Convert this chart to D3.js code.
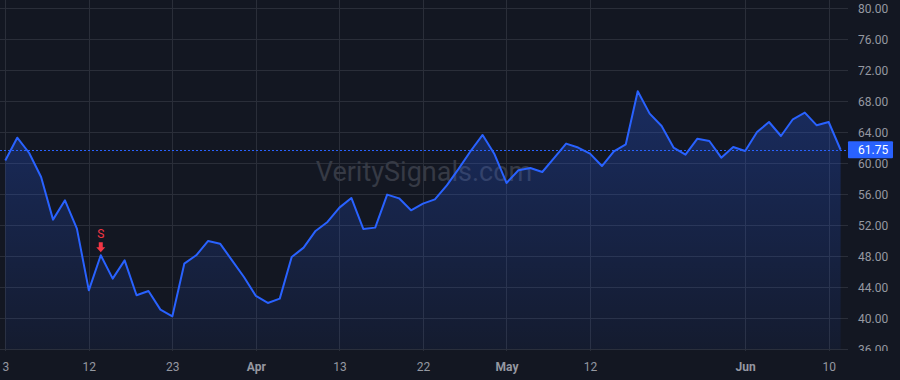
<html>
<head>
  <style>
    body { margin: 0; background-color: #131722; }
    svg { display: block; }
  </style>
</head>
<body>
<div id="mydiv"></div>
<script src="https://d3js.org/d3.v7.min.js"></script>
<script>

// price series (one point per bar)
var prices = [60.35, 63.3, 61.33, 58.24, 52.73, 55.23, 51.57, 43.61, 48.13, 45.12,
  47.48, 42.97, 43.53, 41.12, 40.26, 47.05, 48.13, 49.98, 49.63, 47.48,
  45.33, 42.88, 41.98, 42.54, 47.9, 49.12, 51.27, 52.43, 54.28, 55.53,
  51.53, 51.7, 55.96, 55.48, 53.94, 54.8, 55.35, 57.16, 59.31, 61.59,
  63.66, 61.16, 57.46, 59.1, 59.4, 58.88, 60.69, 62.54, 62.03, 61.25,
  59.65, 61.55, 62.45, 69.29, 66.41, 64.82, 62.03, 61.12, 63.18, 62.88,
  60.73, 62.1, 61.59, 64.04, 65.33, 63.52, 65.68, 66.54, 64.9, 65.33, 61.75];

// bottom axis labels, placed on bar index
var tickIdx = [0, 7, 14, 21, 28, 35, 42, 49, 62, 69];
var tickLabels = ["3", "12", "23", "Apr", "13", "22", "May", "12", "Jun", "10"];
var months = ["Apr", "May", "Jun"];

var priceTicks = d3.range(36, 81, 4);

// sell signal
var signalIdx = [8];
var signalText = ["S"];

let width = 900, height = 380;
let plotW = 848, plotH = 351;

let svg = d3.select("#mydiv")
  .append("svg")
  .attr("width", width)
  .attr("height", height)
  .style("font-family", "Roboto, 'Liberation Sans', sans-serif");

svg.append("rect").attr("width", width).attr("height", height).attr("fill", "#131722");

let x = d3.scaleLinear().domain([0, prices.length - 1]).range([5.3, 840.6]);
let y = d3.scaleLinear().domain([36, 80]).range([349.3, 8.3]);

let defs = svg.append("defs");
defs.append("clipPath").attr("id", "plotclip")
  .append("rect").attr("width", plotW).attr("height", plotH);
// used inside the translated axis group, so local coords
defs.append("clipPath").attr("id", "axisclip")
  .append("rect").attr("x", 0).attr("width", width - plotW).attr("height", plotH);

let grad = defs.append("linearGradient")
  .attr("id", "areagrad")
  .attr("x1", 0).attr("y1", 0).attr("x2", 0).attr("y2", 1);
grad.append("stop").attr("offset", "0%").attr("stop-color", "#2962ff").attr("stop-opacity", 0.28);
grad.append("stop").attr("offset", "100%").attr("stop-color", "#2962ff").attr("stop-opacity", 0.06);

let plot = svg.append("g").attr("clip-path", "url(#plotclip)");

// grid
plot.append("g")
  .selectAll("line")
  .data(priceTicks)
  .enter()
  .append("line")
  .attr("x1", 0).attr("x2", plotW)
  .attr("y1", d => Math.round(y(d)) + 0.5)
  .attr("y2", d => Math.round(y(d)) + 0.5)
  .attr("stroke", "#2a2e39");

plot.append("g")
  .selectAll("line")
  .data(tickIdx)
  .enter()
  .append("line")
  .attr("y1", 0).attr("y2", plotH)
  .attr("x1", d => Math.round(x(d)) + 0.5)
  .attr("x2", d => Math.round(x(d)) + 0.5)
  .attr("stroke", "#2a2e39");

// watermark
plot.append("text")
  .attr("x", plotW / 2)
  .attr("y", 174)
  .attr("text-anchor", "middle")
  .attr("dominant-baseline", "middle")
  .style("font-size", "27px")
  .attr("fill", "#363a45")
  .text("VeritySignals.com");

// area + line
let area = d3.area()
  .x((d, i) => x(i))
  .y0(y(36))
  .y1(d => y(d));

let line = d3.line()
  .x((d, i) => x(i))
  .y(d => y(d));

plot.append("path")
  .datum(prices)
  .attr("d", area)
  .attr("fill", "url(#areagrad)");

plot.append("path")
  .datum(prices)
  .attr("d", line)
  .attr("fill", "none")
  .attr("stroke", "#2962ff")
  .attr("stroke-width", 2)
  .attr("stroke-linejoin", "round");

// last price dotted line
let last = prices[prices.length - 1];
plot.append("line")
  .attr("x1", 0).attr("x2", plotW)
  .attr("y1", Math.round(y(last)) + 0.5)
  .attr("y2", Math.round(y(last)) + 0.5)
  .attr("stroke", "#2962ff")
  .attr("stroke-dasharray", "2,2");

// signal markers
signalIdx.forEach(function(si, k) {
  let px = x(si), py = y(prices[si]);
  let tip = py - 3;
  plot.append("path")
    .attr("d", "M" + (px - 2) + "," + (tip - 10) + "L" + (px + 2) + "," + (tip - 10) +
      "L" + (px + 2) + "," + (tip - 5) + "L" + (px + 4.5) + "," + (tip - 5) +
      "L" + px + "," + tip + "L" + (px - 4.5) + "," + (tip - 5) +
      "L" + (px - 2) + "," + (tip - 5) + "Z")
    .attr("fill", "#f23645");
  plot.append("text")
    .attr("x", px)
    .attr("y", tip - 14)
    .attr("text-anchor", "middle")
    .style("font-size", "12px")
    .attr("fill", "#f23645")
    .text(signalText[k]);
});

// right price axis
let yAxis = svg.append("g")
  .attr("transform", "translate(" + plotW + ",0)")
  .attr("clip-path", "url(#axisclip)")
  .call(d3.axisRight(y).tickValues(priceTicks).tickFormat(d3.format(".2f")).tickSize(0).tickPadding(10));
yAxis.select(".domain").remove();
yAxis.selectAll("text")
  .style("font-size", "12px")
  .style("font-family", "Roboto, 'Liberation Sans', sans-serif")
  .attr("fill", "#9598a1");

// last price label
svg.append("rect")
  .attr("x", plotW).attr("y", y(last) - 8.5)
  .attr("width", 45).attr("height", 17)
  .attr("rx", 1)
  .attr("fill", "#2962ff");
svg.append("text")
  .attr("x", plotW + 10).attr("y", y(last))
  .attr("dy", "0.35em")
  .style("font-size", "12px")
  .attr("fill", "#ffffff")
  .text(last.toFixed(2));

// bottom time axis
let xAxis = svg.append("g")
  .attr("transform", "translate(0," + plotH + ")")
  .call(d3.axisBottom(x).tickValues(tickIdx).tickFormat((d, i) => tickLabels[i]).tickSize(0).tickPadding(11));
xAxis.select(".domain").remove();
xAxis.selectAll("text")
  .style("font-size", "12px")
  .style("font-family", "Roboto, 'Liberation Sans', sans-serif")
  .attr("fill", "#9598a1")
  .style("font-weight", d => months.indexOf(tickLabels[tickIdx.indexOf(d)]) >= 0 ? "bold" : "normal");

</script>
</body>
</html>
